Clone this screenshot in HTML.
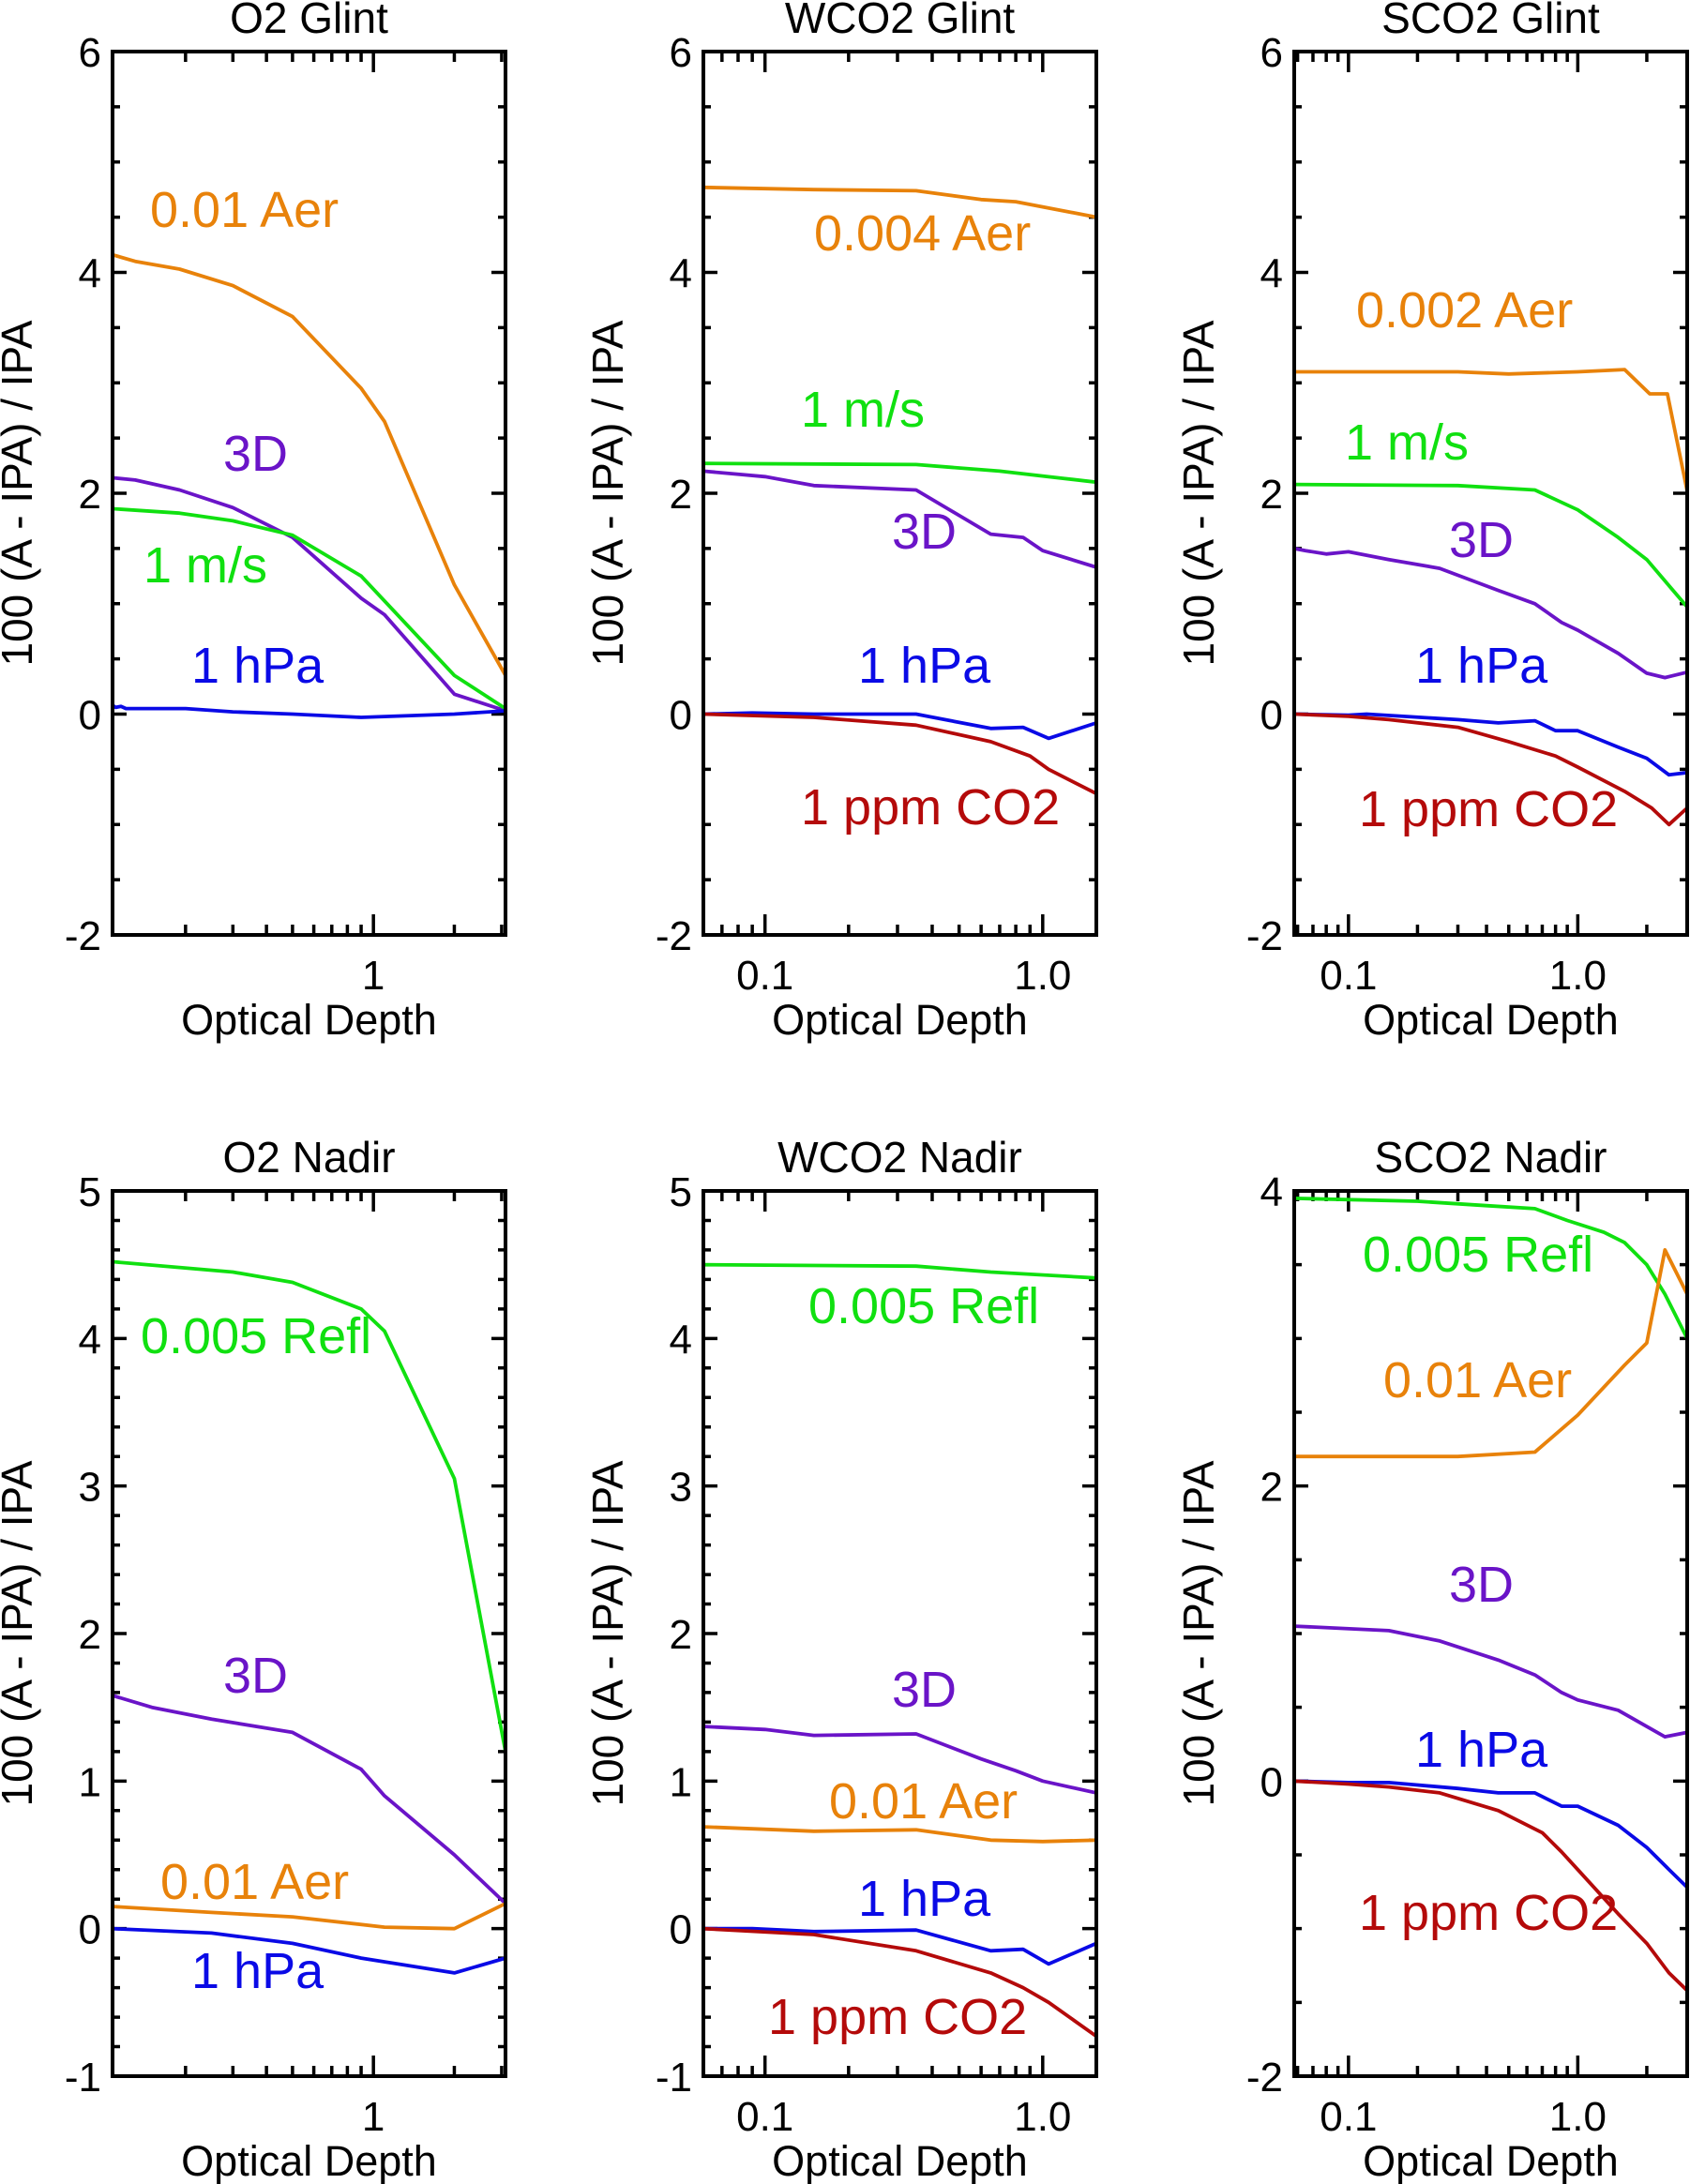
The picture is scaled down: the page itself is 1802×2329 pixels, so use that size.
<!DOCTYPE html>
<html><head><meta charset="utf-8"><style>
html,body{margin:0;padding:0;background:#fff;}
svg{display:block;font-family:"Liberation Sans",sans-serif;}
</style></head><body>
<svg id="c" width="1802" height="2329" viewBox="0 0 1802 2329"></svg>
<script>
// ---- data ----
const panelTitles = ["O2 Glint","WCO2 Glint","SCO2 Glint","O2 Nadir","WCO2 Nadir","SCO2 Nadir"];
const xRanges = [[0.107,3.1],[0.06,1.56],[0.058,3.0],[0.107,3.1],[0.06,1.56],[0.058,3.0]];
const yRanges = [[-2,6],[-2,6],[-2,6],[-1,5],[-1,5],[-2,4]];
const yMajor = [2,2,2,1,1,2];
const yMinor = [0.5,0.5,0.5,0.2,0.2,0.5];
const xTickLabels = [["1"],["0.1","1.0"],["0.1","1.0"],["1"],["0.1","1.0"],["0.1","1.0"]];
const xTickValues = [[1],[0.1,1.0],[0.1,1.0],[1],[0.1,1.0],[0.1,1.0]];

const o2gAerX=[0.107,0.13,0.19,0.3,0.5,0.9,1.1,2.0,3.1];
const o2gAerY=[4.16,4.1,4.03,3.88,3.6,2.95,2.65,1.17,0.35];
const o2g3dX=[0.107,0.13,0.19,0.3,0.5,0.9,1.1,2.0,3.1];
const o2g3dY=[2.14,2.12,2.03,1.87,1.6,1.05,0.9,0.18,0.03];
const o2gWindX=[0.107,0.19,0.3,0.5,0.9,2.0,3.1];
const o2gWindY=[1.86,1.82,1.75,1.62,1.25,0.35,0.05];
const o2gPresX=[0.107,0.11,0.115,0.12,0.2,0.3,0.5,0.9,2.0,3.1];
const o2gPresY=[0.08,0.06,0.07,0.05,0.05,0.02,0.0,-0.03,0.0,0.03];

const wgAerX=[0.06,0.15,0.35,0.6,0.8,1.56];
const wgAerY=[4.77,4.75,4.74,4.66,4.64,4.5];
const wgWindX=[0.06,0.35,0.7,1.56];
const wgWindY=[2.27,2.26,2.2,2.1];
const wg3dX=[0.06,0.1,0.15,0.35,0.65,0.85,1.0,1.56];
const wg3dY=[2.2,2.15,2.07,2.03,1.63,1.6,1.48,1.33];
const wgPresX=[0.06,0.09,0.15,0.35,0.65,0.85,1.05,1.56];
const wgPresY=[0,0.01,0,0,-0.13,-0.12,-0.22,-0.08];
const wgCo2X=[0.06,0.15,0.35,0.65,0.9,1.05,1.56];
const wgCo2Y=[0,-0.03,-0.1,-0.25,-0.38,-0.5,-0.72];

const sgAerX=[0.058,0.3,0.5,1.0,1.6,2.06,2.46,3.0];
const sgAerY=[3.1,3.1,3.08,3.1,3.12,2.9,2.9,2.02];
const sgWindX=[0.058,0.3,0.65,1.0,1.5,2.0,3.0];
const sgWindY=[2.08,2.07,2.03,1.85,1.6,1.4,0.97];
const sg3dX=[0.058,0.065,0.08,0.1,0.15,0.25,0.45,0.65,0.85,1.0,1.5,2.0,2.4,3.0];
const sg3dY=[1.5,1.48,1.45,1.47,1.4,1.32,1.12,1.0,0.83,0.76,0.55,0.37,0.33,0.38];
const sgPresX=[0.058,0.1,0.12,0.3,0.45,0.65,0.8,1.0,1.5,2.0,2.5,3.0];
const sgPresY=[0,-0.01,0,-0.05,-0.08,-0.06,-0.15,-0.15,-0.3,-0.4,-0.55,-0.53];
const sgCo2X=[0.058,0.1,0.15,0.3,0.5,0.8,1.0,1.6,2.1,2.5,3.0];
const sgCo2Y=[0,-0.02,-0.05,-0.12,-0.25,-0.38,-0.48,-0.7,-0.85,-1.0,-0.85];

const onReflX=[0.107,0.3,0.5,0.9,1.1,2.0,3.1];
const onReflY=[4.52,4.45,4.38,4.2,4.05,3.05,1.2];
const on3dX=[0.107,0.15,0.25,0.5,0.9,1.1,2.0,3.1];
const on3dY=[1.58,1.5,1.42,1.33,1.08,0.9,0.5,0.17];
const onAerX=[0.107,0.25,0.5,1.1,2.0,3.1];
const onAerY=[0.15,0.11,0.08,0.01,0,0.17];
const onPresX=[0.107,0.25,0.5,0.9,2.0,3.1];
const onPresY=[0,-0.03,-0.1,-0.2,-0.3,-0.2];

const wnReflX=[0.06,0.35,0.65,1.56];
const wnReflY=[4.5,4.49,4.45,4.41];
const wn3dX=[0.06,0.1,0.15,0.35,0.6,0.8,1.0,1.56];
const wn3dY=[1.37,1.35,1.31,1.32,1.15,1.07,1.0,0.92];
const wnAerX=[0.06,0.15,0.35,0.65,1.0,1.56];
const wnAerY=[0.69,0.66,0.67,0.6,0.59,0.6];
const wnPresX=[0.06,0.09,0.15,0.35,0.65,0.85,1.05,1.56];
const wnPresY=[0,0,-0.02,-0.01,-0.15,-0.14,-0.24,-0.1];
const wnCo2X=[0.06,0.15,0.35,0.65,0.85,1.05,1.56];
const wnCo2Y=[0,-0.04,-0.15,-0.3,-0.4,-0.5,-0.73];

const snReflX=[0.058,0.2,0.4,0.65,0.9,1.3,1.6,2.0,2.4,3.0];
const snReflY=[3.95,3.93,3.9,3.88,3.8,3.72,3.65,3.5,3.3,3.0];
const snAerX=[0.058,0.3,0.65,1.0,1.6,2.0,2.4,3.0];
const snAerY=[2.2,2.2,2.23,2.48,2.82,2.97,3.6,3.3];
const sn3dX=[0.058,0.15,0.25,0.45,0.65,0.85,1.0,1.5,2.4,3.0];
const sn3dY=[1.05,1.02,0.95,0.82,0.72,0.6,0.55,0.48,0.3,0.33];
const snPresX=[0.058,0.1,0.15,0.3,0.45,0.65,0.85,1.0,1.5,2.0,2.5,3.0];
const snPresY=[0,-0.01,-0.01,-0.05,-0.08,-0.08,-0.17,-0.17,-0.3,-0.45,-0.6,-0.72];
const snCo2X=[0.058,0.1,0.15,0.25,0.45,0.7,0.85,1.0,1.5,2.0,2.5,3.0];
const snCo2Y=[0,-0.02,-0.04,-0.08,-0.2,-0.35,-0.48,-0.6,-0.9,-1.1,-1.3,-1.42];

const OR="#e8820a",GR="#10e010",PU="#6a14c8",BL="#0a0ae6",RD="#b40a0a";
const series=[
 [0,OR,o2gAerX,o2gAerY,"aerosol"],[0,PU,o2g3dX,o2g3dY,"3d"],[0,GR,o2gWindX,o2gWindY,"wind"],[0,BL,o2gPresX,o2gPresY,"pressure"],
 [1,OR,wgAerX,wgAerY,"aerosol"],[1,GR,wgWindX,wgWindY,"wind"],[1,PU,wg3dX,wg3dY,"3d"],[1,BL,wgPresX,wgPresY,"pressure"],[1,RD,wgCo2X,wgCo2Y,"co2"],
 [2,OR,sgAerX,sgAerY,"aerosol"],[2,GR,sgWindX,sgWindY,"wind"],[2,PU,sg3dX,sg3dY,"3d"],[2,BL,sgPresX,sgPresY,"pressure"],[2,RD,sgCo2X,sgCo2Y,"co2"],
 [3,GR,onReflX,onReflY,"reflectance"],[3,PU,on3dX,on3dY,"3d"],[3,OR,onAerX,onAerY,"aerosol"],[3,BL,onPresX,onPresY,"pressure"],
 [4,GR,wnReflX,wnReflY,"reflectance"],[4,PU,wn3dX,wn3dY,"3d"],[4,OR,wnAerX,wnAerY,"aerosol"],[4,BL,wnPresX,wnPresY,"pressure"],[4,RD,wnCo2X,wnCo2Y,"co2"],
 [5,GR,snReflX,snReflY,"reflectance"],[5,OR,snAerX,snAerY,"aerosol"],[5,PU,sn3dX,sn3dY,"3d"],[5,BL,snPresX,snPresY,"pressure"],[5,RD,snCo2X,snCo2Y,"co2"]
];
const labels=[
 [0,"0.01 Aer",OR,160,242],[0,"3D",PU,238,502],[0,"1 m/s",GR,153,621],[0,"1 hPa",BL,204,728],
 [1,"0.004 Aer",OR,868,267],[1,"1 m/s",GR,854,455],[1,"3D",PU,951,585],[1,"1 hPa",BL,915,728],[1,"1 ppm CO2",RD,854,879],
 [2,"0.002 Aer",OR,1446,349],[2,"1 m/s",GR,1434,490],[2,"3D",PU,1545,594],[2,"1 hPa",BL,1509,728],[2,"1 ppm CO2",RD,1449,881],
 [3,"0.005 Refl",GR,150,1443],[3,"3D",PU,238,1805],[3,"0.01 Aer",OR,171,2025],[3,"1 hPa",BL,204,2120],
 [4,"0.005 Refl",GR,862,1411],[4,"3D",PU,951,1820],[4,"0.01 Aer",OR,884,1939],[4,"1 hPa",BL,915,2043],[4,"1 ppm CO2",RD,819,2169],
 [5,"0.005 Refl",GR,1453,1356],[5,"0.01 Aer",OR,1475,1490],[5,"3D",PU,1545,1708],[5,"1 hPa",BL,1509,1884],[5,"1 ppm CO2",RD,1449,2058]
];

const colX=[[120,539],[750,1169],[1380,1799]];
const rowY=[[55,997],[1270,2214]];
const NS="http://www.w3.org/2000/svg";
const svg=document.getElementById('c');
function mk(tag,attrs,parent){const e=document.createElementNS(NS,tag);for(const k in attrs)e.setAttribute(k,attrs[k]);(parent||svg).appendChild(e);return e;}

for(let p=0;p<6;p++){
  const [L,R]=colX[p%3],[T,B]=rowY[Math.floor(p/3)];
  const [x0,x1]=xRanges[p],[y0,y1]=yRanges[p];
  const sx=v=>L+(Math.log10(v)-Math.log10(x0))/(Math.log10(x1)-Math.log10(x0))*(R-L);
  const sy=v=>B-(v-y0)/(y1-y0)*(B-T);
  const g=mk('g',{});
  
  
  const t=mk('text',{x:(L+R)/2,y:T-20,'font-size':46,'text-anchor':'middle',fill:'#000'},g);
  t.textContent=panelTitles[p];
  let d='';
  const nMin=Math.round((y1-y0)/yMinor[p]);
  for(let i=0;i<=nMin;i++){const v=y0+i*yMinor[p];const y=sy(v);
    const maj=Math.abs(v/yMajor[p]-Math.round(v/yMajor[p]))<1e-6;const len=maj?15:8;
    d+=`M${L} ${y}h${len}M${R} ${y}h${-len}`;
    if(maj){const tl=mk('text',{x:L-12,y:y+16,'font-size':44,'text-anchor':'end',fill:'#000'},g);
      tl.textContent=String(Math.round(v));}
  }
  for(let e=-3;e<=1;e++){for(let m=1;m<=9;m++){const v=m*Math.pow(10,e);if(v<x0*0.999||v>x1*1.001)continue;
    const x=sx(v);const len=m===1?22:11;d+=`M${x} ${B}v${-len}M${x} ${T}v${len}`;}}
  const tk=mk('path',{d:d,stroke:'#000','stroke-width':3.5,fill:'none'},g);
  
  xTickValues[p].forEach((v,i)=>{const tl=mk('text',{x:sx(v),y:B+58,'font-size':44,'text-anchor':'middle',fill:'#000'},g);
    tl.textContent=xTickLabels[p][i];});
  const xt=mk('text',{x:(L+R)/2,y:B+106,'font-size':45,'text-anchor':'middle',fill:'#000'},g);
  xt.textContent='Optical Depth';
  const yc=(T+B)/2, yx=L-86;
  const yt=mk('text',{x:yx,y:yc,'font-size':46,'text-anchor':'middle',fill:'#000',transform:`rotate(-90 ${yx} ${yc})`},g);
  yt.textContent='100 (A - IPA) / IPA';
  const cp=mk('clipPath',{id:'cp'+p},g);mk('rect',{x:L,y:T,width:R-L,height:B-T},cp);
  series.filter(s=>s[0]===p).forEach(s=>{
    const pts=s[2].map((xv,i)=>sx(xv).toFixed(1)+','+sy(s[3][i]).toFixed(1)).join(' ');
    const pl=mk('polyline',{points:pts,fill:'none',stroke:s[1],'stroke-width':3.8,'clip-path':`url(#cp${p})`,'stroke-linejoin':'round'},g);
    
  });
  labels.filter(l=>l[0]===p).forEach(l=>{
    const tl=mk('text',{x:l[3],y:l[4],'font-size':54,fill:l[2]},g);
    tl.textContent=l[1];
  });
  const fr=mk('rect',{x:L,y:T,width:R-L,height:B-T,fill:'none',stroke:'#000','stroke-width':4},g);
  
}
</script>
</body></html>
